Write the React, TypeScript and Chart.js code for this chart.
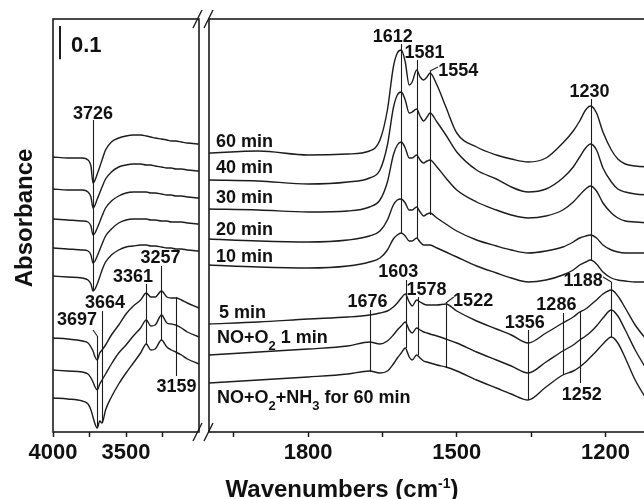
import React, { useEffect, useRef } from 'react';
import { Chart, registerables } from 'chart.js';

Chart.register(...registerables);

const FONT = '"Liberation Sans", Arial, Helvetica, sans-serif';
const INK = '#1c1c1c';

// ---------- data (wavenumbers in cm-1, absorbance incl. stacking offset) ----------
const SERIES_NAMES = ['60 min', '40 min', '30 min', '20 min', '10 min', '5 min', 'NO+O2 1 min', 'NO+O2+NH3 for 60 min'];

const LEFT_WAVENUMBERS = [4000, 3900, 3800, 3760, 3740, 3726, 3712, 3697, 3680, 3664, 3640, 3600, 3550, 3500, 3450, 3400, 3361, 3330, 3300, 3257, 3220, 3190, 3159, 3120, 3080, 3000];
const RIGHT_WAVENUMBERS = [2000, 1900, 1800, 1720, 1676, 1655, 1640, 1628, 1620, 1612, 1604, 1596, 1590, 1581, 1574, 1567, 1560, 1554, 1540, 1522, 1500, 1460, 1420, 1390, 1356, 1320, 1286, 1265, 1252, 1240, 1230, 1218, 1205, 1188, 1175, 1160, 1140, 1110];

const LEFT_60 = [0.825, 0.822, 0.822, 0.816, 0.798, 0.747, 0.756, 0.774, 0.795, 0.816, 0.846, 0.870, 0.882, 0.888, 0.891, 0.891, 0.888, 0.885, 0.882, 0.879, 0.876, 0.873, 0.873, 0.870, 0.867, 0.864];
const LEFT_40 = [0.729, 0.726, 0.726, 0.720, 0.705, 0.672, 0.681, 0.699, 0.717, 0.735, 0.759, 0.780, 0.795, 0.801, 0.804, 0.804, 0.801, 0.801, 0.798, 0.795, 0.792, 0.792, 0.789, 0.789, 0.786, 0.783];
const LEFT_30 = [0.639, 0.636, 0.633, 0.630, 0.618, 0.591, 0.597, 0.612, 0.630, 0.648, 0.672, 0.693, 0.708, 0.717, 0.720, 0.720, 0.720, 0.717, 0.717, 0.714, 0.711, 0.711, 0.708, 0.708, 0.705, 0.702];
const LEFT_20 = [0.552, 0.549, 0.546, 0.543, 0.531, 0.507, 0.513, 0.528, 0.546, 0.564, 0.588, 0.609, 0.627, 0.636, 0.639, 0.639, 0.639, 0.636, 0.636, 0.633, 0.633, 0.630, 0.630, 0.630, 0.627, 0.624];
const LEFT_10 = [0.468, 0.465, 0.462, 0.456, 0.444, 0.423, 0.429, 0.444, 0.465, 0.486, 0.510, 0.531, 0.546, 0.555, 0.558, 0.561, 0.561, 0.558, 0.558, 0.555, 0.552, 0.552, 0.549, 0.549, 0.546, 0.543];
const LEFT_5 = [0.282, 0.279, 0.273, 0.267, 0.255, 0.243, 0.225, 0.216, 0.237, 0.246, 0.261, 0.291, 0.321, 0.354, 0.378, 0.396, 0.417, 0.405, 0.405, 0.423, 0.405, 0.402, 0.402, 0.396, 0.387, 0.372];
const LEFT_1 = [0.186, 0.183, 0.180, 0.174, 0.162, 0.150, 0.135, 0.126, 0.144, 0.156, 0.174, 0.204, 0.237, 0.261, 0.288, 0.312, 0.336, 0.318, 0.321, 0.351, 0.327, 0.324, 0.321, 0.312, 0.300, 0.285];
const LEFT_NH3 = [0.102, 0.099, 0.093, 0.084, 0.066, 0.045, 0.024, 0.012, 0.033, 0.027, 0.066, 0.105, 0.144, 0.177, 0.207, 0.237, 0.264, 0.246, 0.249, 0.276, 0.255, 0.246, 0.240, 0.231, 0.219, 0.204];

const RIGHT_60 = [0.837, 0.843, 0.831, 0.834, 0.843, 0.876, 0.966, 1.095, 1.137, 1.146, 1.110, 1.041, 1.050, 1.086, 1.065, 1.056, 1.065, 1.077, 1.041, 0.975, 0.897, 0.855, 0.831, 0.819, 0.810, 0.822, 0.867, 0.903, 0.933, 0.966, 0.978, 0.957, 0.900, 0.846, 0.819, 0.804, 0.798, 0.795];
const RIGHT_40 = [0.756, 0.753, 0.744, 0.750, 0.762, 0.786, 0.861, 0.972, 1.011, 1.020, 0.996, 0.957, 0.960, 0.969, 0.948, 0.933, 0.945, 0.957, 0.930, 0.891, 0.840, 0.786, 0.759, 0.735, 0.720, 0.729, 0.762, 0.795, 0.825, 0.852, 0.864, 0.846, 0.792, 0.750, 0.729, 0.720, 0.714, 0.711];
const RIGHT_30 = [0.669, 0.666, 0.660, 0.663, 0.675, 0.696, 0.750, 0.831, 0.861, 0.870, 0.852, 0.822, 0.822, 0.831, 0.816, 0.807, 0.813, 0.816, 0.795, 0.762, 0.726, 0.690, 0.666, 0.651, 0.642, 0.648, 0.666, 0.690, 0.711, 0.729, 0.738, 0.723, 0.687, 0.657, 0.642, 0.633, 0.630, 0.627];
const RIGHT_20 = [0.579, 0.573, 0.570, 0.576, 0.588, 0.603, 0.636, 0.681, 0.696, 0.699, 0.687, 0.666, 0.666, 0.675, 0.660, 0.648, 0.654, 0.657, 0.642, 0.624, 0.603, 0.576, 0.558, 0.546, 0.537, 0.543, 0.555, 0.570, 0.582, 0.588, 0.591, 0.582, 0.561, 0.546, 0.540, 0.537, 0.537, 0.537];
const RIGHT_10 = [0.501, 0.495, 0.492, 0.498, 0.510, 0.522, 0.546, 0.579, 0.591, 0.597, 0.588, 0.573, 0.573, 0.582, 0.570, 0.561, 0.561, 0.561, 0.552, 0.540, 0.525, 0.498, 0.477, 0.462, 0.450, 0.456, 0.471, 0.486, 0.501, 0.510, 0.516, 0.504, 0.480, 0.462, 0.456, 0.453, 0.450, 0.450];
const RIGHT_5 = [0.324, 0.330, 0.339, 0.345, 0.351, 0.357, 0.363, 0.375, 0.387, 0.402, 0.414, 0.390, 0.378, 0.396, 0.390, 0.384, 0.381, 0.381, 0.381, 0.384, 0.363, 0.333, 0.309, 0.291, 0.267, 0.297, 0.327, 0.345, 0.360, 0.369, 0.381, 0.396, 0.414, 0.426, 0.408, 0.372, 0.321, 0.264];
const RIGHT_1 = [0.231, 0.240, 0.249, 0.258, 0.270, 0.264, 0.273, 0.291, 0.306, 0.318, 0.330, 0.306, 0.297, 0.312, 0.306, 0.300, 0.297, 0.294, 0.288, 0.279, 0.267, 0.240, 0.216, 0.198, 0.177, 0.210, 0.243, 0.261, 0.276, 0.288, 0.300, 0.318, 0.342, 0.366, 0.348, 0.306, 0.246, 0.171];
const RIGHT_NH3 = [0.147, 0.156, 0.165, 0.174, 0.183, 0.177, 0.183, 0.204, 0.222, 0.237, 0.252, 0.225, 0.216, 0.231, 0.222, 0.213, 0.210, 0.207, 0.201, 0.195, 0.183, 0.156, 0.132, 0.114, 0.096, 0.135, 0.171, 0.183, 0.195, 0.210, 0.225, 0.243, 0.264, 0.285, 0.267, 0.222, 0.156, 0.081];

const LEFT_SERIES = [LEFT_60, LEFT_40, LEFT_30, LEFT_20, LEFT_10, LEFT_5, LEFT_1, LEFT_NH3];
const RIGHT_SERIES = [RIGHT_60, RIGHT_40, RIGHT_30, RIGHT_20, RIGHT_10, RIGHT_5, RIGHT_1, RIGHT_NH3];

const LEFT_TICKS = [4000, 3750, 3500, 3250];
const LEFT_TICK_LABELS = [4000, 3500];
const RIGHT_TICKS = [1950, 1800, 1650, 1500, 1350, 1200];
const RIGHT_TICK_LABELS = [1800, 1500, 1200];

// peak markers: wavenumber, marker line extent (absorbance), label anchor
type Peak = { label: string; at: number; top: number; bottom: number; tx: number; ty: number; leader?: number[] };
const LEFT_PEAKS: Peak[] = [
  { label: '3726', at: 3726, top: 0.936, bottom: 0.423, tx: 3726, ty: 0.939 },
  { label: '3697', at: 3697, top: 0.288, bottom: 0.012, tx: 3836, ty: 0.321, leader: [3726, 0.306, 3697, 0.288] },
  { label: '3664', at: 3664, top: 0.363, bottom: 0.027, tx: 3644, ty: 0.372 },
  { label: '3361', at: 3361, top: 0.444, bottom: 0.264, tx: 3452, ty: 0.450 },
  { label: '3257', at: 3257, top: 0.498, bottom: 0.276, tx: 3264, ty: 0.507 },
  { label: '3159', at: 3159, top: 0.405, bottom: 0.168, tx: 3154, ty: 0.120 },
];
const RIGHT_PEAKS: Peak[] = [
  { label: '1612', at: 1612, top: 1.164, bottom: 0.597, tx: 1629, ty: 1.170 },
  { label: '1581', at: 1581, top: 1.116, bottom: 0.582, tx: 1565, ty: 1.122 },
  { label: '1554', at: 1554, top: 1.083, bottom: 0.651, tx: 1497, ty: 1.068, leader: [1554, 1.083, 1538, 1.095] },
  { label: '1230', at: 1230, top: 0.999, bottom: 0.516, tx: 1232, ty: 1.005 },
  { label: '1603', at: 1603, top: 0.456, bottom: 0.252, tx: 1618, ty: 0.465 },
  { label: '1578', at: 1578, top: 0.405, bottom: 0.231, tx: 1561, ty: 0.411 },
  { label: '1676', at: 1676, top: 0.366, bottom: 0.180, tx: 1680, ty: 0.375 },
  { label: '1522', at: 1522, top: 0.387, bottom: 0.195, tx: 1467, ty: 0.378, leader: [1522, 0.387, 1506, 0.405] },
  { label: '1356', at: 1356, top: 0.306, bottom: 0.096, tx: 1363, ty: 0.312 },
  { label: '1286', at: 1286, top: 0.357, bottom: 0.171, tx: 1299, ty: 0.366 },
  { label: '1252', at: 1252, top: 0.360, bottom: 0.147, tx: 1248, ty: 0.096 },
  { label: '1188', at: 1188, top: 0.450, bottom: 0.285, tx: 1245, ty: 0.438, leader: [1188, 0.450, 1205, 0.465] },
];

// spectrum names printed in the right panel ("_" = subscript next char)
const SERIES_LABELS = [
  { text: '60 min', x: 1986, y: 0.855 },
  { text: '40 min', x: 1986, y: 0.777 },
  { text: '30 min', x: 1986, y: 0.687 },
  { text: '20 min', x: 1986, y: 0.591 },
  { text: '10 min', x: 1986, y: 0.510 },
  { text: '5 min', x: 1980, y: 0.342 },
  { text: 'NO+O_2 1 min', x: 1984, y: 0.267 },
  { text: 'NO+O_2+NH_3 for 60 min', x: 1984, y: 0.087 },
];

const SCALE_BAR = { at: 3952, top: 1.218, size: 0.1, label: '0.1', tx: 3877, ty: 1.140 };
const Y_MAX = 1.239;

// ---------- drawing helpers ----------
function drawRich(ctx: CanvasRenderingContext2D, text: string, x: number, y: number, size: number) {
  let cx = x;
  let i = 0;
  ctx.textAlign = 'left';
  ctx.textBaseline = 'alphabetic';
  while (i < text.length) {
    if (text[i] === '_') {
      const ch = text[i + 1];
      ctx.font = `bold ${Math.round(size * 0.7)}px ${FONT}`;
      ctx.fillText(ch, cx, y + size * 0.38);
      cx += ctx.measureText(ch).width;
      i += 2;
    } else {
      let j = i;
      while (j < text.length && text[j] !== '_') j++;
      const seg = text.slice(i, j);
      ctx.font = `bold ${size}px ${FONT}`;
      ctx.fillText(seg, cx, y);
      cx += ctx.measureText(seg).width;
      i = j;
    }
  }
}

function makeFramePlugin(panel: 'left' | 'right') {
  return {
    id: 'frame-' + panel,
    afterDraw(chart: any) {
      const { ctx, chartArea: a } = chart;
      ctx.save();
      ctx.strokeStyle = INK;
      ctx.lineWidth = 1.6;
      ctx.strokeRect(a.left, a.top, a.right - a.left, a.bottom - a.top);
      const cx = panel === 'left' ? a.right - 1.5 : a.left - 0.5;
      ctx.lineWidth = 1.4;
      for (const cy of [a.top, a.bottom]) {
        ctx.beginPath();
        ctx.moveTo(cx - 4.5, cy + 9);
        ctx.lineTo(cx + 4.5, cy - 9);
        ctx.stroke();
      }
      ctx.restore();
    },
  };
}

function makeOverlayPlugin(panel: 'left' | 'right') {
  const peaks = panel === 'left' ? LEFT_PEAKS : RIGHT_PEAKS;
  return {
    id: 'overlay-' + panel,
    afterDatasetsDraw(chart: any) {
      const { ctx } = chart;
      const xs = chart.scales.x;
      const ys = chart.scales.y;
      ctx.save();
      ctx.strokeStyle = INK;
      ctx.fillStyle = '#111';
      ctx.lineWidth = 1.1;
      for (const p of peaks) {
        const x = Math.round(xs.getPixelForValue(p.at)) + 0.5;
        ctx.beginPath();
        ctx.moveTo(x, ys.getPixelForValue(p.top));
        ctx.lineTo(x, ys.getPixelForValue(p.bottom));
        ctx.stroke();
        if (p.leader) {
          ctx.beginPath();
          ctx.moveTo(xs.getPixelForValue(p.leader[0]), ys.getPixelForValue(p.leader[1]));
          ctx.lineTo(xs.getPixelForValue(p.leader[2]), ys.getPixelForValue(p.leader[3]));
          ctx.stroke();
        }
        ctx.font = `bold 18px ${FONT}`;
        ctx.textAlign = 'center';
        ctx.textBaseline = 'alphabetic';
        ctx.fillText(p.label, xs.getPixelForValue(p.tx), ys.getPixelForValue(p.ty));
      }
      if (panel === 'right') {
        for (const s of SERIES_LABELS) {
          drawRich(ctx, s.text, xs.getPixelForValue(s.x), ys.getPixelForValue(s.y), 18);
        }
      } else {
        const bx = Math.round(xs.getPixelForValue(SCALE_BAR.at));
        ctx.lineWidth = 2;
        ctx.beginPath();
        ctx.moveTo(bx, ys.getPixelForValue(SCALE_BAR.top));
        ctx.lineTo(bx, ys.getPixelForValue(SCALE_BAR.top - SCALE_BAR.size));
        ctx.stroke();
        ctx.font = `bold 22px ${FONT}`;
        ctx.textAlign = 'left';
        ctx.textBaseline = 'alphabetic';
        ctx.fillText(SCALE_BAR.label, xs.getPixelForValue(SCALE_BAR.tx), ys.getPixelForValue(SCALE_BAR.ty));
      }
      ctx.restore();
    },
  };
}

function buildConfig(panel: 'left' | 'right'): any {
  const isLeft = panel === 'left';
  const xsArr = isLeft ? LEFT_WAVENUMBERS : RIGHT_WAVENUMBERS;
  const series = isLeft ? LEFT_SERIES : RIGHT_SERIES;
  const ticks = isLeft ? LEFT_TICKS : RIGHT_TICKS;
  const labeled = isLeft ? LEFT_TICK_LABELS : RIGHT_TICK_LABELS;
  return {
    type: 'line',
    data: {
      datasets: series.map((vals, i) => ({
        label: SERIES_NAMES[i],
        data: xsArr.map((x, j) => ({ x, y: vals[j] })),
        borderColor: INK,
        borderWidth: 1.4,
        pointRadius: 0,
        fill: false,
        cubicInterpolationMode: 'monotone',
      })),
    },
    options: {
      responsive: false,
      animation: false,
      events: [],
      devicePixelRatio: 1,
      layout: { padding: isLeft ? { left: 53, right: 6, top: 19, bottom: 0 } : { left: 24, right: 5, top: 19, bottom: 0 } },
      plugins: { legend: { display: false }, tooltip: { enabled: false } },
      scales: {
        x: {
          type: 'linear',
          reverse: true,
          min: isLeft ? 3000 : 1100,
          max: isLeft ? 4000 : 2000,
          afterBuildTicks: (s: any) => { s.ticks = ticks.map((v) => ({ value: v })); },
          afterFit: (s: any) => { s.height = 67; },
          ticks: {
            autoSkip: false,
            maxRotation: 0,
            padding: 3,
            color: '#111',
            font: { family: FONT, size: 22, weight: 'bold' },
            callback: (v: any) => (labeled.includes(Number(v)) ? String(v) : ''),
          },
          grid: { display: true, drawOnChartArea: false, drawTicks: true, tickLength: 5, tickWidth: 1.5, tickColor: INK },
          border: { display: false },
        },
        y: { type: 'linear', display: false, min: 0, max: Y_MAX },
      },
    },
    plugins: [makeFramePlugin(panel), makeOverlayPlugin(panel)],
  };
}

export default function App() {
  const leftRef = useRef<HTMLCanvasElement>(null);
  const rightRef = useRef<HTMLCanvasElement>(null);

  useEffect(() => {
    const left = new Chart(leftRef.current as HTMLCanvasElement, buildConfig('left'));
    const right = new Chart(rightRef.current as HTMLCanvasElement, buildConfig('right'));
    return () => {
      left.destroy();
      right.destroy();
    };
  }, []);

  return (
    <div style={{ position: 'absolute', left: 0, top: 0, width: 644, height: 499, overflow: 'hidden', background: '#fff' }}>
      <canvas ref={leftRef} width={205} height={499} style={{ position: 'absolute', left: 0, top: 0 }} />
      <canvas ref={rightRef} width={475} height={499} style={{ position: 'absolute', left: 185, top: 0 }} />
      <div
        style={{
          position: 'absolute', left: -76, top: 204, width: 200, height: 28, lineHeight: '28px',
          textAlign: 'center', fontFamily: FONT, fontWeight: 'bold', fontSize: 24, color: '#111',
          transform: 'rotate(-90deg)', whiteSpace: 'nowrap',
        }}
      >
        Absorbance
      </div>
      <div
        style={{
          position: 'absolute', left: 142, top: 475, width: 400, height: 28, lineHeight: '28px',
          textAlign: 'center', fontFamily: FONT, fontWeight: 'bold', fontSize: 24, color: '#111', whiteSpace: 'nowrap',
        }}
      >
        Wavenumbers (cm<span style={{ fontSize: 14, position: 'relative', top: -9 }}>-1</span>)
      </div>
    </div>
  );
}
